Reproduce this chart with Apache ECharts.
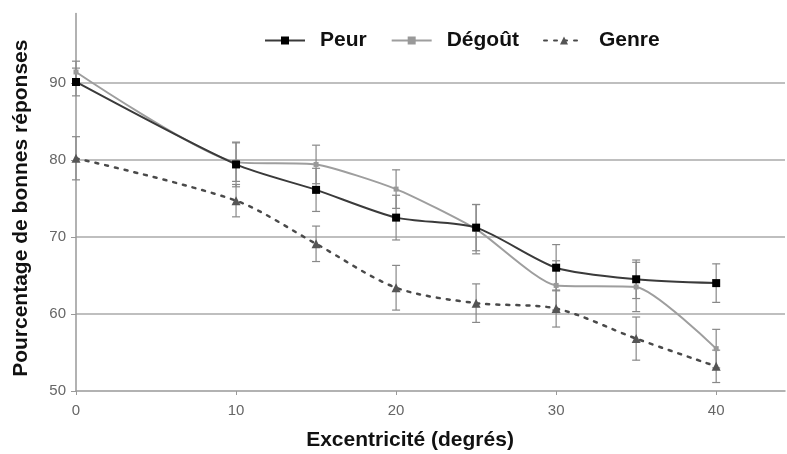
<!DOCTYPE html>
<html><head><meta charset="utf-8">
<script src="https://cdn.jsdelivr.net/npm/echarts@6/dist/echarts.min.js"></script>
<style>html,body{margin:0;padding:0;background:#fff}#c{width:787px;height:454px}</style>
</head><body><div id="c"></div>
<script>
const xValues = [0, 10, 15, 20, 25, 30, 35, 40];
const peur = [90.1, 79.4, 76.1, 72.5, 71.2, 66.0, 64.5, 64.0];
const degout = [91.4, 79.7, 79.4, 76.2, 71.0, 63.7, 63.5, 55.5];
const genre = [80.2, 74.7, 69.1, 63.4, 61.4, 60.7, 56.8, 53.2];
const peurErr = [1.8, 2.9, 2.8, 2.9, 3.0, 3.0, 2.5, 2.5];
const degoutErr = [1.4, 2.5, 2.5, 2.5, 3.2, 3.2, 3.2, 2.5];
const genreErr = [2.8, 2.1, 2.3, 2.9, 2.5, 2.4, 2.8, 2.1];
const xTicks = [0, 10, 20, 30, 40];
const yTicks = [50, 60, 70, 80, 90];

const FONT = '"Liberation Sans", Arial, sans-serif';

function errSeries(name, vals, errs) {
  return {
    type: 'custom', name: name, z: 1,
    data: xValues.map((x, i) => [x, vals[i], errs[i]]),
    encode: { x: 0, y: 1 },
    silent: true,
    renderItem: function (params, api) {
      const x = api.value(0), v = api.value(1), e = api.value(2);
      const t = api.coord([x, v + e]), b = api.coord([x, v - e]);
      const w = 4, st = { stroke: '#888', lineWidth: 1.2 };
      return { type: 'group', children: [
        { type: 'line', shape: { x1: t[0], y1: t[1], x2: b[0], y2: b[1] }, style: st },
        { type: 'line', shape: { x1: t[0] - w, y1: t[1], x2: t[0] + w, y2: t[1] }, style: st },
        { type: 'line', shape: { x1: b[0] - w, y1: b[1], x2: b[0] + w, y2: b[1] }, style: st }
      ]};
    }
  };
}

const chart = echarts.init(document.getElementById('c'), null, { renderer: 'canvas' });
chart.setOption({
  backgroundColor: '#fff',
  animation: false,
  textStyle: { fontFamily: FONT },
  title: {
    text: 'Excentricité (degrés)', left: 405, top: 425, textAlign: 'center',
    textStyle: { fontFamily: FONT, fontWeight: 'bold', fontSize: 21, color: '#111' }
  },
  legend: {
    data: ['Peur', 'Dégoût', 'Genre'],
    left: 259, top: 25, itemWidth: 40, itemHeight: 10, itemGap: 24,
    textStyle: { fontFamily: FONT, fontWeight: 'bold', fontSize: 21, color: '#111', padding: [0, 0, 0, 10] }
  },
  grid: { left: 76, right: 2, top: 13.4, bottom: 63, containLabel: false },
  xAxis: {
    type: 'value', min: 0, max: 44.3, interval: 10,
    axisLine: { lineStyle: { color: '#999', width: 1.5 } },
    axisTick: { show: true, length: 4, lineStyle: { color: '#999' } },
    axisLabel: { color: '#666', fontSize: 15, margin: 12, fontFamily: FONT, showMaxLabel: false,
      formatter: v => xTicks.includes(v) ? String(v) : '' },
    splitLine: { show: false }
  },
  yAxis: {
    type: 'value', min: 50, max: 99, interval: 10,
    name: 'Pourcentage de bonnes réponses', nameLocation: 'middle', nameGap: 44,
    nameTextStyle: { fontFamily: FONT, fontWeight: 'bold', fontSize: 21, color: '#111', padding: [0, 12, 0, 0] },
    axisLine: { show: true, lineStyle: { color: '#999', width: 1.5 } },
    axisTick: { show: true, length: 5, lineStyle: { color: '#999' } },
    axisLabel: { color: '#666', fontSize: 15, margin: 10, fontFamily: FONT, showMaxLabel: false,
      formatter: v => yTicks.includes(v) ? String(v) : '' },
    splitLine: { show: true, showMinLine: false, showMaxLine: false, lineStyle: { color: '#aaa', width: 1.5 } }
  },
  series: [
    errSeries('errPeur', peur, peurErr),
    errSeries('errDegout', degout, degoutErr),
    errSeries('errGenre', genre, genreErr),
    {
      name: 'Peur', type: 'line', z: 4, smooth: 0.25,
      data: xValues.map((x, i) => [x, peur[i]]),
      symbol: 'rect', symbolSize: 8,
      itemStyle: { color: '#000' },
      lineStyle: { color: '#3a3a3a', width: 2 }
    },
    {
      name: 'Dégoût', type: 'line', z: 3, smooth: 0.2,
      data: xValues.map((x, i) => [x, degout[i]]),
      symbol: 'rect', symbolSize: 5,
      itemStyle: { color: '#999' },
      lineStyle: { color: '#9e9e9e', width: 2 }
    },
    {
      name: 'Genre', type: 'line', z: 3, smooth: 0.3,
      data: xValues.map((x, i) => [x, genre[i]]),
      symbol: 'triangle', symbolSize: 9,
      itemStyle: { color: '#555' },
      lineStyle: { color: '#4a4a4a', width: 2.5, type: [3, 7], cap: 'round' }
    }
  ]
});
</script></body></html>
